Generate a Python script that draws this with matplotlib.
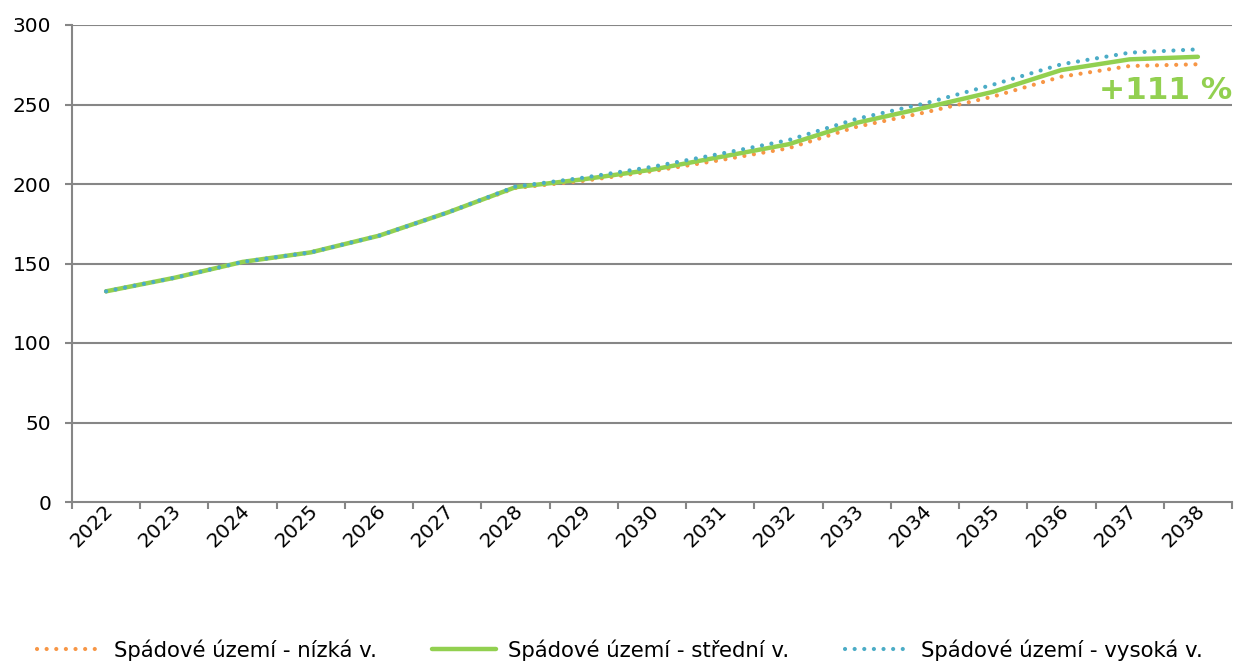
import matplotlib
matplotlib.use("Agg")
import matplotlib.pyplot as plt
import matplotlib.transforms as mtransforms
import numpy as np

years = ["2022", "2023", "2024", "2025", "2026", "2027", "2028", "2029", "2030",
         "2031", "2032", "2033", "2034", "2035", "2036", "2037", "2038"]
low = [132.5, 141, 151, 157, 167.5, 182, 197.5, 202, 208, 215, 222.5, 236, 245, 255, 267.5, 274.2, 275.3]
mid = [132.5, 141, 151, 157, 167.5, 182, 198, 203, 209, 217, 225, 238.5, 248, 258, 271.7, 278.4, 280]
high = [132.5, 141, 151, 157, 167.5, 182, 198.4, 204, 210.8, 219, 227.6, 241, 250.7, 262.5, 275.3, 282.6, 284.7]
labels = ["Spádové území - nízká v.", "Spádové území - střední v.", "Spádové území - vysoká v."]
annotation = "+111 %"
yticks = [0, 50, 100, 150, 200, 250, 300]

c_low = "#F79646"
c_mid = "#92D050"
c_high = "#4BACC6"
grid_c = "#868686"

plt.rcParams['font.family'] = ['DejaVu Sans']
fs = 14.5

fig = plt.figure(figsize=(12.35, 6.62), dpi=100)
ax = fig.add_axes([72/1235, 1-502/662, (1232-72)/1235, (502-25)/662])

x = np.arange(len(years))
l1, = ax.plot(x, low, color=c_low, lw=3, linestyle=(0, (0.01, 2.3)), dash_capstyle='round', zorder=3)
l2, = ax.plot(x, mid, color=c_mid, lw=3.2, solid_capstyle='round', zorder=4)
l3, = ax.plot(x, high, color=c_high, lw=3, linestyle=(0, (0.01, 2.3)), dash_capstyle='round', zorder=5)

ax.set_xlim(-0.5, len(years) - 0.5)
ax.set_ylim(0, 300)
ax.set_yticks(yticks)
ax.tick_params(axis='y', labelsize=fs, length=5, width=1.5, color=grid_c, pad=10, labelcolor='black')
for v in yticks[1:]:
    ax.axhline(v, color=grid_c, lw=1.5, zorder=1)

ax.set_xticks(np.arange(len(years) + 1) - 0.5)
ax.set_xticklabels([])
ax.tick_params(axis='x', which='major', length=5, width=1.5, color=grid_c)
ax.set_xticks(x, minor=True)
ax.set_xticklabels(years, minor=True, rotation=45, ha='right', va='center', rotation_mode='anchor', fontsize=fs)
ax.tick_params(axis='x', which='minor', length=0, pad=4)
offset = mtransforms.ScaledTranslation(4/100, 0, fig.dpi_scale_trans)
for lab in ax.xaxis.get_minorticklabels():
    lab.set_transform(lab.get_transform() + offset)

for s in ['top', 'right']:
    ax.spines[s].set_visible(False)
for s in ['left', 'bottom']:
    ax.spines[s].set_color(grid_c)
    ax.spines[s].set_linewidth(1.5)

ax.text(1.0, 259, annotation,
        transform=mtransforms.blended_transform_factory(ax.transAxes, ax.transData),
        ha='right', va='center', fontsize=22.5, fontweight='bold', color=c_mid, zorder=6)

fig.legend([l1, l2, l3], labels, loc='center', bbox_to_anchor=(620/1235, 1 - 650/662), ncol=3,
           frameon=False, fontsize=15.3, handlelength=3.0, handletextpad=0.6, columnspacing=2.6)

fig.savefig("out.png", dpi=100)
